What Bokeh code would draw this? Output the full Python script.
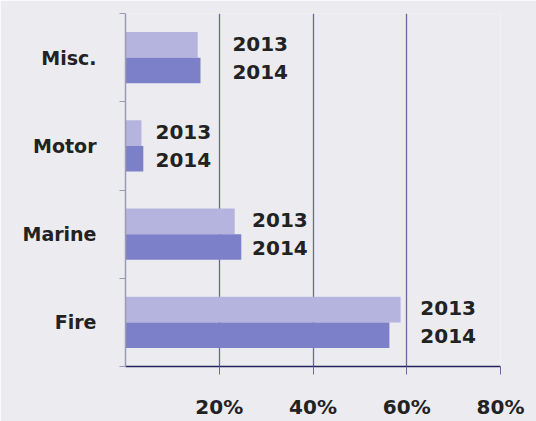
from bokeh.plotting import figure
from bokeh.models import ColumnDataSource, Range1d, FixedTicker
from bokeh.core.properties import value
from bokeh.embed import file_html
from bokeh.resources import INLINE

# ---- data ----
categories = ["Fire", "Marine", "Motor", "Misc."]
share_2013 = [58.7, 23.3, 3.4, 15.4]
share_2014 = [56.3, 24.7, 3.8, 16.0]
years = ["2013", "2014"]
x_ticks = [20, 40, 60, 80]
x_tick_labels = ["20%", "40%", "60%", "80%"]
# where the year annotations start, in % units
label_x = [62.9, 27.0, 6.4, 22.8]

# ---- derived layout values ----
BAR_H = 0.29
LAB_DY = 0.16
n = len(categories)
centers = [i + 0.5 for i in range(n)]

bars13 = ColumnDataSource(dict(y=[c + BAR_H / 2 for c in centers], right=share_2013))
bars14 = ColumnDataSource(dict(y=[c - BAR_H / 2 for c in centers], right=share_2014))

lab_x, lab_y, lab_t = [], [], []
for c, lx in zip(centers, label_x):
    lab_x += [lx, lx]
    lab_y += [c + LAB_DY, c - LAB_DY]
    lab_t += [years[0], years[1]]
labels = ColumnDataSource(dict(x=lab_x, y=lab_y, text=lab_t))

BG = "#ececf0"
FONT = "DejaVu Sans"
TXT = "#222222"

p = figure(width=536, height=421, x_range=Range1d(0, 80), y_range=Range1d(0, n),
           output_backend="svg", toolbar_location=None,
           min_border_left=125, min_border_right=36, min_border_top=13, min_border_bottom=54)
p.background_fill_color = BG
p.border_fill_color = BG
p.outline_line_color = None

p.hbar(y="y", right="right", left=0, height=BAR_H, source=bars13,
       fill_color="#b4b4de", line_color=None)
p.hbar(y="y", right="right", left=0, height=BAR_H, source=bars14,
       fill_color="#7c80c8", line_color=None)

p.text(x="x", y="y", text="text", source=labels, text_font=value(FONT),
       text_font_size="20px", text_font_style="bold", text_baseline="middle",
       text_align="left", text_color=TXT)

# x axis
xa = p.xaxis[0]
xa.ticker = FixedTicker(ticks=x_ticks)
xa.major_label_overrides = {t: s for t, s in zip(x_ticks, x_tick_labels)}
xa.axis_line_color = "#23235e"
xa.axis_line_width = 1.5
xa.major_tick_line_color = "#6a6a9a"
xa.major_tick_out = 8
xa.major_tick_in = 0
xa.minor_tick_line_color = None
xa.major_label_standoff = 20
xa.major_label_text_font = FONT
xa.major_label_text_font_size = "20px"
xa.major_label_text_font_style = "bold"
xa.major_label_text_color = TXT

# y axis
ya = p.yaxis[0]
ya.ticker = FixedTicker(ticks=centers, minor_ticks=list(range(n + 1)))
ya.major_label_overrides = {c: s for c, s in zip(centers, categories)}
ya.axis_line_color = "#9a9ab4"
ya.axis_line_width = 1.5
ya.major_tick_line_color = None
ya.major_tick_out = 0
ya.major_tick_in = 0
ya.minor_tick_line_color = "#9a9ab4"
ya.minor_tick_out = 6
ya.minor_tick_in = 0
ya.major_label_standoff = 23
ya.major_label_text_font = FONT
ya.major_label_text_font_size = "19px"
ya.major_label_text_font_style = "bold"
ya.major_label_text_color = TXT

p.xgrid.ticker = FixedTicker(ticks=x_ticks)
p.xgrid.grid_line_color = "#6a6a9a"
p.xgrid.grid_line_width = 1.3
p.ygrid.grid_line_color = None

open("out.html", "w").write(file_html(p, INLINE))
